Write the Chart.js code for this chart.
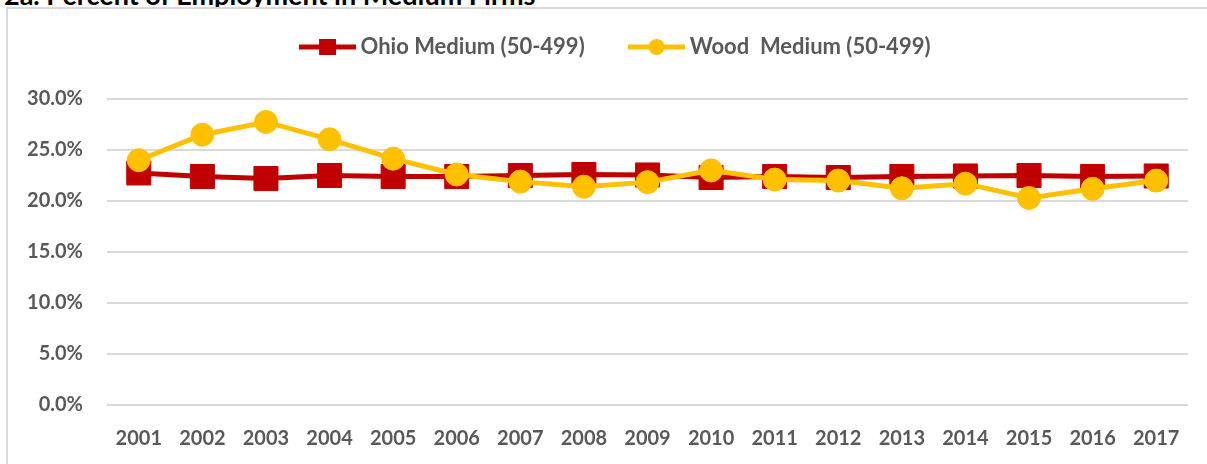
<!DOCTYPE html>
<html>
<head>
<meta charset="utf-8">
<script src="https://cdn.jsdelivr.net/npm/chart.js@4.4.1/dist/chart.umd.min.js"></script>
<style>
  html, body { margin: 0; padding: 0; background: #fff; overflow: hidden; }
  #title {
    position: absolute; left: 4px; top: -17px; white-space: nowrap;
    font: bold 27px Lato, "Liberation Sans", sans-serif; line-height: 24px; color: #000;
  }
  #wrap {
    position: absolute; left: 6px; top: 7px; width: 1201px; height: 457px;
    border: 2px solid #d9d9d9;
  }
  #wrap canvas { display: block; }
</style>
</head>
<body>
<div id="title">2a. Percent of Employment in Medium Firms</div>
<div id="wrap"><canvas id="chart" width="1201" height="457"></canvas></div>
<script>
// valeurs (%)
const years = ['2001','2002','2003','2004','2005','2006','2007','2008','2009','2010','2011','2012','2013','2014','2015','2016','2017'];
const ohioMedium = [22.75, 22.4, 22.2, 22.5, 22.4, 22.4, 22.5, 22.6, 22.55, 22.3, 22.4, 22.3, 22.4, 22.45, 22.5, 22.4, 22.45];
const woodMedium = [24.0, 26.5, 27.75, 26.05, 24.15, 22.6, 21.9, 21.4, 21.85, 23.0, 22.1, 22.0, 21.25, 21.7, 20.3, 21.2, 22.0];
const seriesNames = ['Ohio Medium (50-499)', 'Wood  Medium (50-499)'];

const RED = '#C00000', GOLD = '#FFC000', GREY_TXT = '#595959';
const FONT = { family: 'Lato, "Liberation Sans", sans-serif', size: 20, weight: 'bold' };
const LEGEND_FONT = { family: 'Lato, "Liberation Sans", sans-serif', size: 22, weight: 'bold' };

// petite icone ligne + marqueur pour la legende
function legendIcon(color, style) {
    const c = document.createElement('canvas');
    c.width = 57; c.height = 20;
    const ctx = c.getContext('2d');
    ctx.strokeStyle = color; ctx.fillStyle = color; ctx.lineWidth = 5;
    ctx.beginPath(); ctx.moveTo(0, 10); ctx.lineTo(57, 10); ctx.stroke();
    if (style === 'rect') ctx.fillRect(20, 2, 17, 16);
    else { ctx.beginPath(); ctx.arc(28.5, 10, 8, 0, Math.PI * 2); ctx.fill(); }
    return c;
}

// espace sous la legende + petit decalage a droite
const legendSpace = {
    id: 'legendSpace',
    beforeInit(chart) {
        const fit = chart.legend.fit;
        chart.legend.fit = function () { fit.call(this); this.height += 31; };
    },
    afterLayout(chart) { chart.legend.left += 40; }
};

new Chart(document.getElementById('chart'), {
    type: 'line',
    data: {
        labels: years,
        datasets: [{
            label: seriesNames[0],
            data: ohioMedium,
            borderColor: RED, backgroundColor: RED,
            borderWidth: 5,
            pointStyle: 'rect', pointRadius: 17, pointBorderWidth: 1,
            pointHoverRadius: 17,
            tension: 0, order: 1,
            icon: legendIcon(RED, 'rect')
        }, {
            label: seriesNames[1],
            data: woodMedium,
            borderColor: GOLD, backgroundColor: GOLD,
            borderWidth: 5,
            pointStyle: 'circle', pointRadius: 11.5, pointBorderWidth: 1,
            pointHoverRadius: 11.5,
            tension: 0, order: 0,
            icon: legendIcon(GOLD, 'circle')
        }]
    },
    options: {
        responsive: false,
        animation: false,
        layout: { padding: { top: -23, right: 21, bottom: 0, left: 0 } },
        plugins: {
            tooltip: { enabled: false },
            legend: {
                position: 'top',
                labels: {
                    font: LEGEND_FONT, color: GREY_TXT,
                    usePointStyle: true, pointStyleWidth: 44, padding: 50,
                    generateLabels(chart) {
                        return chart.data.datasets.map((ds, i) => ({
                            text: ds.label, pointStyle: ds.icon,
                            fillStyle: ds.borderColor, strokeStyle: ds.borderColor,
                            lineWidth: 0, hidden: false, datasetIndex: i, fontColor: GREY_TXT
                        }));
                    }
                }
            }
        },
        scales: {
            x: {
                offset: true,
                grid: { display: false, drawTicks: false },
                border: { display: false },
                ticks: { font: FONT, color: GREY_TXT, padding: 22, maxRotation: 0 },
                afterFit(s) { s.height = 61; }
            },
            y: {
                min: 0, max: 30,
                grid: { color: '#d9d9d9', lineWidth: 2, drawTicks: false },
                border: { display: false },
                ticks: {
                    stepSize: 5, font: FONT, color: GREY_TXT, padding: 24,
                    callback: v => v.toFixed(1) + '%'
                },
                afterFit(s) { s.width = 99; }
            }
        }
    },
    plugins: [legendSpace]
});
</script>
</body>
</html>
